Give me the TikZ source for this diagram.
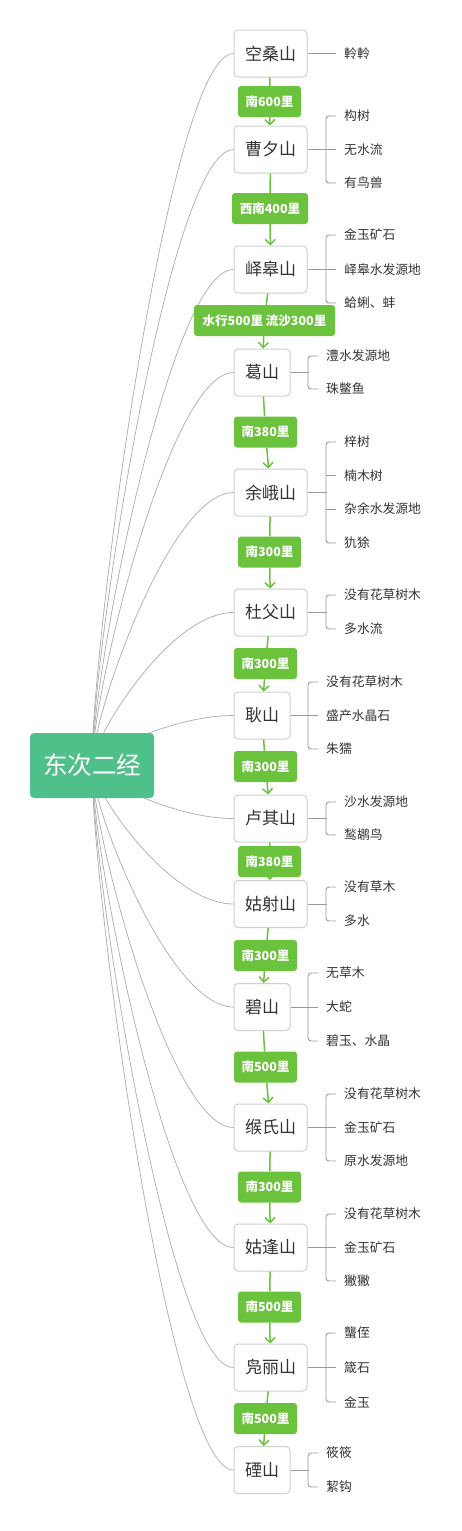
\documentclass[tikz,border=0pt]{standalone}
\usepackage{fontspec}
\setmainfont{Noto Sans CJK SC}
\usetikzlibrary{arrows.meta,backgrounds}
\definecolor{mainc}{HTML}{50C08A}
\definecolor{grn}{HTML}{6BC23C}
\definecolor{txt}{HTML}{333333}
\definecolor{bord}{HTML}{CFCFCF}
\definecolor{lnc}{HTML}{9A9A9A}
\definecolor{crv}{HTML}{ABABAB}
\begin{document}
\begin{tikzpicture}[x=1pt,y=-1pt,
 mtn/.style={draw=bord, line width=1pt, fill=white, rounded corners=4pt, minimum height=47pt, inner sep=0pt, font=\fontsize{17}{20}\selectfont, text=txt},
 wide/.style={mtn, minimum width=73pt},
 narrow/.style={mtn, minimum width=56pt},
 lbl/.style={fill=grn, rounded corners=3pt, minimum height=31pt, minimum width=63pt, inner sep=0pt, text=white, font=\fontsize{12.5}{14}\selectfont\bfseries},
 leaf/.style={anchor=west, inner xsep=8pt, inner ysep=0pt, font=\fontsize{12.8}{15}\selectfont, text=txt},
 lk/.style={draw=lnc, line width=0.9pt},
 br/.style={lk, rounded corners=3pt},
 flow/.style={draw=grn, line width=1.5pt},
 flowa/.style={flow, -{Straight Barb[length=5pt,width=10pt]}},
 crvl/.style={draw=crv, line width=0.7pt}]
\useasboundingbox (0,0) rectangle (461,1531);

% main node
\node[fill=mainc, rounded corners=4pt, minimum width=124pt, minimum height=65pt, inner sep=0pt, text=white, font=\fontsize{24.5}{28}\selectfont] (main) at (92,765.5) {东次二经};

% mountains
\node[wide] (m1) at (270.5,53.5) {空桑山};
\node[wide] (m2) at (270.5,149.5) {曹夕山};
\node[wide] (m3) at (270.5,269.5) {峄皋山};
\node[narrow] (m4) at (262,372.5) {葛山};
\node[wide] (m5) at (270.5,492.5) {余峨山};
\node[wide] (m6) at (270.5,612.5) {杜父山};
\node[narrow] (m7) at (262,715.5) {耿山};
\node[wide] (m8) at (270.5,818.5) {卢其山};
\node[wide] (m9) at (270.5,904) {姑射山};
\node[narrow] (m10) at (262,1007) {碧山};
\node[wide] (m11) at (270.5,1127.5) {缑氏山};
\node[wide] (m12) at (270.5,1247.5) {姑逢山};
\node[wide] (m13) at (270.5,1367.5) {凫丽山};
\node[narrow] (m14) at (262,1470) {䃌山};

% labels
\node[lbl] (g1) at (269.5,101.5) {南600里};
\node[lbl, minimum width=76pt] (g2) at (270,208.5) {西南400里};
\node[lbl, minimum width=141pt] (g3) at (264.5,320.5) {水行500里 流沙300里};
\node[lbl] (g4) at (265.5,432) {南380里};
\node[lbl] (g5) at (269.5,552) {南300里};
\node[lbl] (g6) at (265.5,663.5) {南300里};
\node[lbl] (g7) at (265.5,766.5) {南300里};
\node[lbl] (g8) at (269.5,861.5) {南380里};
\node[lbl] (g9) at (265.5,955.5) {南300里};
\node[lbl] (g10) at (265.5,1067) {南500里};
\node[lbl] (g11) at (269.5,1187) {南300里};
\node[lbl] (g12) at (269.5,1307) {南500里};
\node[lbl] (g13) at (265.5,1418.5) {南500里};

% flow connectors
\foreach \a/\g/\b in {m1/g1/m2, m2/g2/m3, m3/g3/m4, m4/g4/m5, m5/g5/m6, m6/g6/m7, m7/g7/m8, m8/g8/m9, m9/g9/m10, m10/g10/m11, m11/g11/m12, m12/g12/m13, m13/g13/m14}{
  \draw[flow] (\a) -- (\g);
  \draw[flowa] (\g) -- (\b);
}

% leaves
\node[leaf] (m1a) at (336,53.5) {軨軨};
\draw[lk] (m1.east) -- (m1a.west);

\node[leaf] (m2a) at (336,116) {构树};
\node[leaf] (m2b) at (336,149.5) {无水流};
\node[leaf] (m2c) at (336,183) {有鸟兽};
\draw[lk] (m2.east) -- (m2b.west);
\draw[br] (m2a.west) -- ++(-10,0) |- (m2c.west);

\node[leaf] (m3a) at (336,235) {金玉矿石};
\node[leaf] (m3b) at (336,269.5) {峄皋水发源地};
\node[leaf] (m3c) at (336,303) {蛤蜊、蚌};
\draw[lk] (m3.east) -- (m3b.west);
\draw[br] (m3a.west) -- ++(-10,0) |- (m3c.west);

\node[leaf] (m4a) at (318,356) {澧水发源地};
\node[leaf] (m4b) at (318,389) {珠鳖鱼};
\draw[lk] (m4.east) -- ++(18,0);
\draw[br] (m4a.west) -- ++(-10,0) |- (m4b.west);

\node[leaf] (m5a) at (336,442) {梓树};
\node[leaf] (m5b) at (336,475.5) {楠木树};
\node[leaf] (m5c) at (336,509) {杂余水发源地};
\node[leaf] (m5d) at (336,543) {犰狳};
\draw[lk] (m5.east) -- ++(19,0);
\draw[br] (m5a.west) -- ++(-10,0) |- (m5d.west);
\draw[lk] (m5b.west) -- ++(-10,0);
\draw[lk] (m5c.west) -- ++(-10,0);

\node[leaf] (m6a) at (336,595) {没有花草树木};
\node[leaf] (m6b) at (336,629) {多水流};
\draw[lk] (m6.east) -- ++(19,0);
\draw[br] (m6a.west) -- ++(-10,0) |- (m6b.west);

\node[leaf] (m7a) at (318,682) {没有花草树木};
\node[leaf] (m7b) at (318,715.5) {盛产水晶石};
\node[leaf] (m7c) at (318,749) {朱獳};
\draw[lk] (m7.east) -- (m7b.west);
\draw[br] (m7a.west) -- ++(-10,0) |- (m7c.west);

\node[leaf] (m8a) at (336,802) {沙水发源地};
\node[leaf] (m8b) at (336,835) {鹙鹕鸟};
\draw[lk] (m8.east) -- ++(19,0);
\draw[br] (m8a.west) -- ++(-10,0) |- (m8b.west);

\node[leaf] (m9a) at (336,887) {没有草木};
\node[leaf] (m9b) at (336,921) {多水};
\draw[lk] (m9.east) -- ++(19,0);
\draw[br] (m9a.west) -- ++(-10,0) |- (m9b.west);

\node[leaf] (m10a) at (318,973) {无草木};
\node[leaf] (m10b) at (318,1007) {大蛇};
\node[leaf] (m10c) at (318,1041) {碧玉、水晶};
\draw[lk] (m10.east) -- (m10b.west);
\draw[br] (m10a.west) -- ++(-10,0) |- (m10c.west);

\node[leaf] (m11a) at (336,1094) {没有花草树木};
\node[leaf] (m11b) at (336,1127.5) {金玉矿石};
\node[leaf] (m11c) at (336,1161) {原水发源地};
\draw[lk] (m11.east) -- (m11b.west);
\draw[br] (m11a.west) -- ++(-10,0) |- (m11c.west);

\node[leaf] (m12a) at (336,1214) {没有花草树木};
\node[leaf] (m12b) at (336,1247.5) {金玉矿石};
\node[leaf] (m12c) at (336,1281) {獙獙};
\draw[lk] (m12.east) -- (m12b.west);
\draw[br] (m12a.west) -- ++(-10,0) |- (m12c.west);

\node[leaf] (m13a) at (336,1333) {蠪侄};
\node[leaf] (m13b) at (336,1367.5) {箴石};
\node[leaf] (m13c) at (336,1402) {金玉};
\draw[lk] (m13.east) -- (m13b.west);
\draw[br] (m13a.west) -- ++(-10,0) |- (m13c.west);

\node[leaf] (m14a) at (318,1453) {筱筱};
\node[leaf] (m14b) at (318,1487) {絜钩};
\draw[lk] (m14.east) -- ++(18,0);
\draw[br] (m14a.west) -- ++(-10,0) |- (m14b.west);

% curves from main node
\begin{scope}[on background layer]
\foreach \m/\d in {m1/-128, m2/-111, m3/-89, m4/-71, m5/-49, m6/-27, m7/-9, m8/10, m9/25, m10/44, m11/65, m12/87, m13/108, m14/127}{
  \draw[crvl] (main.center) .. controls +(0,\d) and +(-64,0) .. (\m.west);
}
\end{scope}
\end{tikzpicture}
\end{document}
